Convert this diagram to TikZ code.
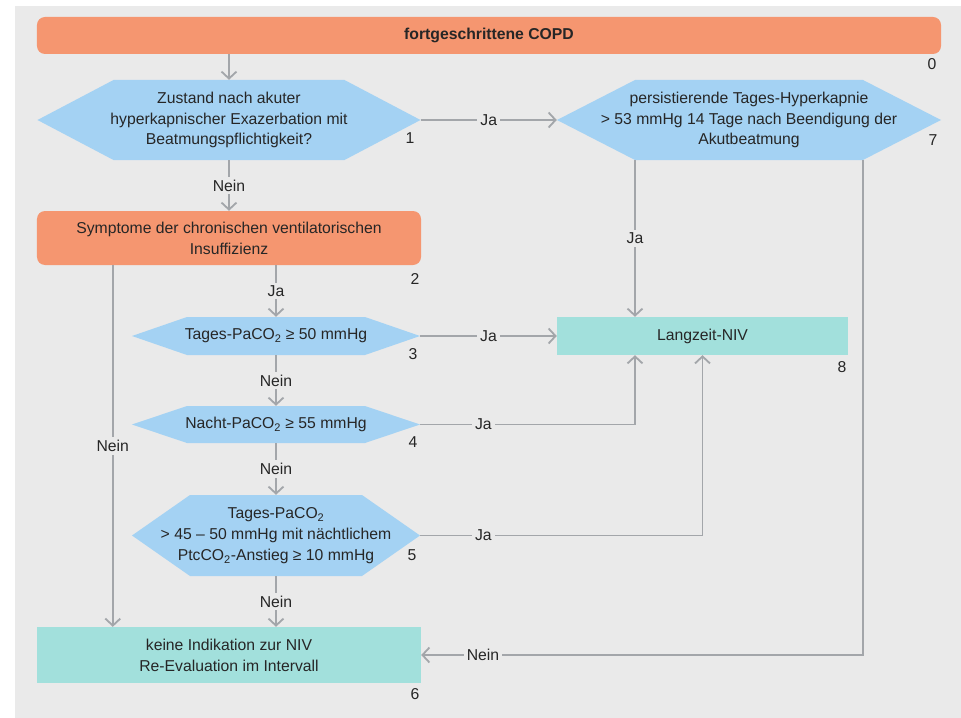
\documentclass[tikz,border=0pt]{standalone}
\usepackage{fontspec}
\setmainfont{Liberation Sans}
\usetikzlibrary{arrows.meta}
\definecolor{bgrey}{RGB}{234,234,234}
\definecolor{salmon}{RGB}{245,150,112}
\definecolor{skyblue}{RGB}{164,210,243}
\definecolor{mint}{RGB}{162,224,220}
\definecolor{linegrey}{RGB}{163,166,170}
\definecolor{ink}{RGB}{38,38,38}
\newcommand\cotwo{CO\textsubscript{2}}
\tikzset{
  txt/.style={text=ink, font=\fontsize{15.8}{21}\selectfont, align=center},
  titlebox/.style={txt, fill=salmon, rounded corners=8bp, inner sep=0pt},
  endbox/.style={txt, fill=mint, inner sep=0pt},
  hexa/.style={txt, inner sep=0pt,
    path picture={\fill[skyblue] (path picture bounding box.west)
      -- ([xshift=#1]path picture bounding box.north west)
      -- ([xshift=-#1]path picture bounding box.north east)
      -- (path picture bounding box.east)
      -- ([xshift=-#1]path picture bounding box.south east)
      -- ([xshift=#1]path picture bounding box.south west) -- cycle;}},
  num/.style={txt},
  lbl/.style={txt, fill=bgrey, inner sep=3bp},
  link/.style={draw=linegrey, line width=1.8bp},
  arr/.style={link, -{Straight Barb[length=7bp,width=15bp]}},
}
\begin{document}
\begin{tikzpicture}[x=1bp, y=-1bp]
    \useasboundingbox (0,0) rectangle (961,718);
    \fill[bgrey] (15,6) rectangle (961,718);

    \node[titlebox, minimum width=904bp, minimum height=37bp] (copd) at (489,35.5) {\bfseries fortgeschrittene COPD};
    \node[hexa=76bp, minimum width=383bp, minimum height=80bp] (h1) at (229,120)
        {Zustand nach akuter\\hyperkapnischer Exazerbation mit\\Beatmungspflichtigkeit?};
    \node[hexa=78bp, minimum width=384bp, minimum height=80bp] (h7) at (749,120)
        {persistierende Tages-Hyperkapnie\\> 53 mmHg 14 Tage nach Beendigung der\\Akutbeatmung};
    \node[titlebox, minimum width=384bp, minimum height=54bp] (sym) at (229,238)
        {Symptome der chronischen ventilatorischen\\Insuffizienz};
    \node[hexa=55bp, minimum width=288bp, minimum height=38bp] (h3) at (276,336) {Tages-Pa\cotwo{} ≥ 50 mmHg};
    \node[hexa=55bp, minimum width=288bp, minimum height=37bp] (h4) at (276,424.5) {Nacht-Pa\cotwo{} ≥ 55 mmHg};
    \node[hexa=58bp, minimum width=288bp, minimum height=81bp] (h5) at (276,535.5)
        {Tages-Pa\cotwo\\> 45 – 50 mmHg mit nächtlichem\\Ptc\cotwo-Anstieg ≥ 10 mmHg};
    \node[endbox, minimum width=291bp, minimum height=38bp] (niv) at (702.5,336) {Langzeit-NIV};
    \node[endbox, minimum width=384bp, minimum height=56bp] (keine) at (229,655)
        {keine Indikation zur NIV\\Re-Evaluation im Intervall};

    \node[num] (n0) at (932,64) {0};
    \node[num] (n1) at (410,138) {1};
    \node[num] (n2) at (415,279) {2};
    \node[num] (n3) at (413,354) {3};
    \node[num] (n4) at (413,442) {4};
    \node[num] (n5) at (412,555) {5};
    \node[num] (n6) at (415,694) {6};
    \node[num] (n7) at (933,140) {7};
    \node[num] (n8) at (842,367) {8};

    \coordinate (h7l) at ([xshift=-114bp]h7.south);
    \coordinate (h7r) at ([xshift=114bp]h7.south);
    \coordinate (syml) at ([xshift=76bp]sym.south west);

    \draw[arr] (copd.south -| h1.north) -- (h1.north);
    \draw[arr] (h1.east) -- node[lbl] {Ja} (h7.west);
    \draw[arr] (h1.south) -- node[lbl] {Nein} (sym.north);
    \draw[arr] (h7l) -- node[lbl] {Ja} (h7l |- niv.north);
    \draw[arr] (h7r) |- node[lbl, pos=0.93] {Nein} (keine.east);
    \draw[arr] (sym.south -| h3.north) -- node[lbl] {Ja} (h3.north);
    \draw[arr] (syml) -- node[lbl] {Nein} (syml |- keine.north);
    \draw[arr] (h3.east) -- node[lbl] {Ja} (niv.west);
    \draw[arr] (h3.south) -- node[lbl] {Nein} (h4.north);
    \draw[arr] (h4.east) -| node[lbl, pos=0.147] {Ja} (h7l |- niv.south);
    \draw[arr] (h4.south) -- node[lbl] {Nein} (h5.north);
    \draw[arr] (h5.east) -| node[lbl, pos=0.112] {Ja} (niv.south);
    \draw[arr] (h5.south) -- node[lbl] {Nein} (h5.south |- keine.north);
\end{tikzpicture}
\end{document}
